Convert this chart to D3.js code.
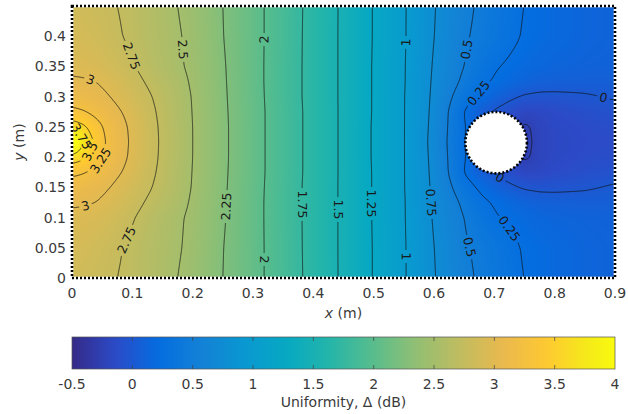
<!DOCTYPE html>
<html><head><meta charset="utf-8">
<script src="https://cdn.jsdelivr.net/npm/d3@7"></script>
<style>
html,body{margin:0;padding:0;background:#fff;}
svg{display:block;font-family:"DejaVu Sans",sans-serif;}
</style></head>
<body><svg id="chart" width="628" height="414"></svg>
<script>
// ---------------- data ----------------
const xKnots = [0, 0.02, 0.04, 0.06, 0.08, 0.1, 0.125, 0.15, 0.175, 0.2, 0.25, 0.3, 0.35, 0.4, 0.45, 0.5, 0.55, 0.6, 0.625, 0.65, 0.675, 0.7, 0.725, 0.75, 0.775, 0.8, 0.85, 0.9];
const yKnots = [0, 0.05, 0.1, 0.125, 0.15, 0.175, 0.2, 0.225, 0.25, 0.275, 0.3, 0.325, 0.35, 0.4, 0.45];
// uniformity Δ (dB), one row per yKnot (bottom to top), one value per xKnot
const uniformity = [
 [2.86,2.84,2.81,2.78,2.74,2.70,2.64,2.57,2.50,2.43,2.25,2.07,1.88,1.68,1.46,1.24,1.02,0.76,0.66,0.56,0.47,0.39,0.32,0.245,0.20,0.17,0.13,0.11],
 [2.90,2.88,2.85,2.81,2.76,2.71,2.64,2.58,2.52,2.45,2.255,2.07,1.88,1.675,1.46,1.24,1.02,0.75,0.65,0.53,0.45,0.38,0.30,0.23,0.20,0.17,0.13,0.11],
 [2.95,2.94,2.92,2.88,2.83,2.765,2.68,2.60,2.53,2.46,2.27,2.07,1.875,1.675,1.46,1.235,1.015,0.73,0.62,0.50,0.37,0.27,0.22,0.18,0.15,0.13,0.11,0.10],
 [3.03,3.02,3.00,2.95,2.89,2.82,2.73,2.65,2.565,2.475,2.275,2.07,1.875,1.675,1.46,1.235,1.015,0.72,0.60,0.45,0.31,0.23,0.17,0.12,0.09,0.08,0.07,0.07],
 [3.12,3.10,3.06,3.01,2.94,2.87,2.78,2.685,2.59,2.49,2.28,2.075,1.875,1.675,1.46,1.235,1.01,0.71,0.54,0.36,0.22,0.12,0.04,-0.02,-0.04,-0.04,-0.02,0.02],
 [3.31,3.26,3.17,3.09,3.01,2.93,2.81,2.705,2.60,2.495,2.285,2.08,1.88,1.68,1.46,1.235,1.01,0.70,0.49,0.24,0.08,-0.02,-0.10,-0.18,-0.17,-0.14,-0.10,-0.06],
 [3.65,3.54,3.35,3.17,3.06,2.96,2.835,2.715,2.605,2.50,2.29,2.08,1.88,1.68,1.46,1.23,1.01,0.69,0.48,0.27,0.06,-0.08,-0.18,-0.28,-0.20,-0.16,-0.13,-0.11],
 [4.30,3.72,3.44,3.20,3.07,2.97,2.84,2.72,2.61,2.50,2.29,2.08,1.88,1.68,1.46,1.23,1.01,0.68,0.47,0.26,0.05,-0.10,-0.20,-0.30,-0.20,-0.17,-0.14,-0.13],
 [3.65,3.54,3.35,3.17,3.06,2.96,2.835,2.715,2.605,2.50,2.29,2.08,1.88,1.68,1.46,1.23,1.01,0.69,0.48,0.27,0.06,-0.08,-0.18,-0.28,-0.20,-0.16,-0.13,-0.11],
 [3.31,3.26,3.17,3.09,3.01,2.93,2.81,2.705,2.60,2.495,2.285,2.08,1.88,1.68,1.46,1.235,1.01,0.70,0.49,0.24,0.08,-0.02,-0.10,-0.18,-0.17,-0.14,-0.10,-0.06],
 [3.12,3.10,3.06,3.01,2.94,2.87,2.78,2.685,2.59,2.49,2.28,2.075,1.875,1.675,1.46,1.235,1.01,0.71,0.54,0.36,0.22,0.12,0.04,-0.02,-0.04,-0.04,-0.02,0.02],
 [3.03,3.02,3.00,2.95,2.89,2.82,2.73,2.65,2.565,2.475,2.275,2.07,1.875,1.675,1.46,1.235,1.015,0.72,0.60,0.45,0.31,0.23,0.17,0.12,0.09,0.08,0.07,0.07],
 [2.95,2.94,2.92,2.88,2.83,2.765,2.68,2.60,2.53,2.46,2.27,2.07,1.875,1.675,1.46,1.235,1.015,0.73,0.62,0.50,0.37,0.27,0.22,0.18,0.15,0.13,0.11,0.10],
 [2.90,2.88,2.85,2.81,2.76,2.71,2.64,2.58,2.52,2.45,2.255,2.07,1.88,1.675,1.46,1.24,1.02,0.75,0.65,0.53,0.45,0.38,0.30,0.23,0.20,0.17,0.13,0.11],
 [2.86,2.84,2.81,2.78,2.74,2.70,2.64,2.57,2.50,2.43,2.25,2.07,1.88,1.68,1.46,1.24,1.02,0.76,0.66,0.56,0.47,0.39,0.32,0.245,0.20,0.17,0.13,0.11]
];
const contourLevels = [-0.25, 0, 0.25, 0.5, 0.75, 1, 1.25, 1.5, 1.75, 2, 2.25, 2.5, 2.75, 3, 3.25, 3.5, 3.75];
// [level, approx x, approx y] of each inline contour label
const contourLabels = [
 [3, 0.030, 0.328], [2.75, 0.096, 0.366], [2.5, 0.182, 0.378], [2, 0.320, 0.395],
 [1, 0.549, 0.390], [0.5, 0.655, 0.378], [0.25, 0.672, 0.307], [0, 0.880, 0.298],
 [3.75, 0.012, 0.232], [3.5, 0.026, 0.212], [3.25, 0.046, 0.196], [3, 0.022, 0.120],
 [2.75, 0.091, 0.063], [2.25, 0.257, 0.118], [2, 0.320, 0.030], [1.75, 0.381, 0.121],
 [1.5, 0.439, 0.113], [1.25, 0.491, 0.124], [1, 0.544, 0.035], [0.75, 0.585, 0.124],
 [0.5, 0.657, 0.051], [0.25, 0.721, 0.080], [0, 0.705, 0.159]
];
const obstacle = [0.703, 0.224, 0.051]; // centre x, centre y, radius (m)
const xTicks = [0, 0.1, 0.2, 0.3, 0.4, 0.5, 0.6, 0.7, 0.8, 0.9];
const yTicks = [0, 0.05, 0.1, 0.15, 0.2, 0.25, 0.3, 0.35, 0.4];
const colorTicks = [-0.5, 0, 0.5, 1, 1.5, 2, 2.5, 3, 3.5, 4];
const parulaPos = [0, 5, 10, 15, 20, 25, 30, 35, 40, 45, 50, 55, 60, 63];
const parulaHex = ["#352a87","#2c4ac7","#046de0","#1481d6","#0998d1","#07a9c2","#25b5a9","#59bd8c","#92bf73","#c0bc60","#e9b94e","#fec832","#f5eb18","#f9fb0e"];

// ---------------- layout ----------------
const M = {l:72, t:6, w:543, h:272};
const x = d3.scaleLinear().domain([0, 0.9]).range([M.l, M.l + M.w]);
const y = d3.scaleLinear().domain([0, 0.45]).range([M.t + M.h, M.t]);
const cmin = -0.5, cmax = 4;
const color = d3.scaleLinear()
  .domain(parulaPos.map(p => cmin + (cmax - cmin) * p / 63))
  .range(parulaHex).interpolate(d3.interpolateRgb).clamp(true);

const svg = d3.select('#chart');
const defs = svg.append('defs');

// ---------------- field raster ----------------
function sample(xv, yv) {
  const i = Math.min(Math.max(d3.bisectRight(xKnots, xv) - 1, 0), xKnots.length - 2);
  const j = Math.min(Math.max(d3.bisectRight(yKnots, yv) - 1, 0), yKnots.length - 2);
  const tx = (xv - xKnots[i]) / (xKnots[i+1] - xKnots[i]);
  const ty = (yv - yKnots[j]) / (yKnots[j+1] - yKnots[j]);
  const a = uniformity[j][i], b = uniformity[j][i+1], c = uniformity[j+1][i], d = uniformity[j+1][i+1];
  return (a*(1-tx) + b*tx)*(1-ty) + (c*(1-tx) + d*tx)*ty;
}
function blur(a, w, h, r) {
  const tmp = new Float64Array(w*h), out = new Float64Array(w*h);
  for (let j = 0; j < h; j++) for (let i = 0; i < w; i++) {
    let s = 0; for (let k = -r; k <= r; k++) s += a[j*w + Math.min(w-1, Math.max(0, i+k))];
    tmp[j*w+i] = s / (2*r+1);
  }
  for (let j = 0; j < h; j++) for (let i = 0; i < w; i++) {
    let s = 0; for (let k = -r; k <= r; k++) s += tmp[Math.min(h-1, Math.max(0, j+k))*w + i];
    out[j*w+i] = s / (2*r+1);
  }
  return out;
}
const nx = M.w, ny = M.h;
let vals = new Float64Array(nx*ny);
for (let j = 0; j < ny; j++) {
  const yv = y.invert(M.t + j + 0.5);
  for (let i = 0; i < nx; i++) vals[j*nx+i] = sample(x.invert(M.l + i + 0.5), yv);
}
vals = blur(blur(vals, nx, ny, 3), nx, ny, 3);

// colour image
const cv = document.createElement('canvas'); cv.width = nx; cv.height = ny;
const ctx = cv.getContext('2d'); const img = ctx.createImageData(nx, ny);
const LUT = d3.range(1025).map(k => d3.rgb(color(cmin + (cmax - cmin) * k / 1024)));
for (let k = 0; k < nx*ny; k++) {
  const t = Math.round(Math.max(0, Math.min(1, (vals[k] - cmin) / (cmax - cmin))) * 1024);
  const c = LUT[t];
  img.data[4*k] = c.r; img.data[4*k+1] = c.g; img.data[4*k+2] = c.b; img.data[4*k+3] = 255;
}
ctx.putImageData(img, 0, 0);
svg.append('image').attr('x', M.l).attr('y', M.t).attr('width', nx).attr('height', ny)
  .attr('preserveAspectRatio', 'none').attr('href', cv.toDataURL());

// ---------------- contours ----------------
const contours = d3.contours().size([nx, ny]).thresholds(contourLevels)(Array.from(vals));
const path = d3.geoPath();
defs.append('clipPath').attr('id', 'plotclip').append('rect').attr('width', nx).attr('height', ny);
const plotG = svg.append('g').attr('transform', `translate(${M.l},${M.t})`);
const lineG = plotG.append('g').attr('clip-path', 'url(#plotclip)');
const labelG = plotG.append('g');
const hpx = {cx: x(obstacle[0]) - M.l, cy: y(obstacle[1]) - M.t, r: obstacle[2] * (x(1) - x(0))};
const fmt = v => String(v);

const placed = contourLabels.map(([lev, lx, ly]) => {
  const c = contours.find(cc => Math.abs(cc.value - lev) < 1e-9);
  const tx = x(lx) - M.l, ty = y(ly) - M.t;
  let best = null, bd = Infinity;
  c.coordinates.forEach(poly => poly.forEach(ring => ring.forEach((p, k) => {
    if (p[0] < 2 || p[0] > nx-2 || p[1] < 2 || p[1] > ny-2) return;
    if (Math.hypot(p[0]-hpx.cx, p[1]-hpx.cy) < hpx.r + 2) return;
    const d = (p[0]-tx)**2 + (p[1]-ty)**2;
    if (d < bd) { bd = d; best = {ring, k}; }
  })));
  if (!best) return null;
  const n = best.ring.length, p = best.ring[best.k];
  const pa = best.ring[(best.k - 5 + n) % n], pb = best.ring[(best.k + 5) % n];
  let ang = Math.atan2(pb[1]-pa[1], pb[0]-pa[0]) * 180 / Math.PI;
  if (ang > 90) ang -= 180; if (ang <= -90) ang += 180;
  return {lev, px: p[0], py: p[1], ang};
}).filter(d => d);

placed.forEach(d => {
  const t = labelG.append('text').attr('transform', `translate(${d.px},${d.py}) rotate(${d.ang})`)
    .attr('text-anchor', 'middle').attr('dy', '0.35em')
    .attr('font-size', 12.5).attr('fill', '#1a1a1a').text(fmt(d.lev));
  d.w = t.node().getComputedTextLength();
});

contours.forEach((c, idx) => {
  const labs = placed.filter(d => Math.abs(d.lev - c.value) < 1e-9);
  const p = lineG.append('path').attr('d', path(c)).attr('fill', 'none')
    .attr('stroke', '#111').attr('stroke-width', 0.8).attr('stroke-opacity', 0.9);
  if (labs.length) {
    const m = defs.append('mask').attr('id', 'lm' + idx).attr('maskUnits', 'userSpaceOnUse')
      .attr('x', -20).attr('y', -20).attr('width', nx + 40).attr('height', ny + 40);
    m.append('rect').attr('x', -20).attr('y', -20).attr('width', nx + 40).attr('height', ny + 40).attr('fill', '#fff');
    labs.forEach(d => {
      m.append('rect').attr('x', -d.w/2 - 2.5).attr('y', -6).attr('width', d.w + 5).attr('height', 12)
        .attr('transform', `translate(${d.px},${d.py}) rotate(${d.ang})`).attr('fill', '#000');
    });
    p.attr('mask', `url(#lm${idx})`);
  }
});

// obstacle
plotG.append('circle').attr('cx', hpx.cx).attr('cy', hpx.cy).attr('r', hpx.r)
  .attr('fill', '#fff').attr('stroke', '#000').attr('stroke-width', 2.6).attr('stroke-dasharray', '2,2');

// frame (dotted)
svg.append('rect').attr('x', M.l).attr('y', M.t).attr('width', M.w).attr('height', M.h)
  .attr('fill', 'none').attr('stroke', '#fff').attr('stroke-width', 2.6);
svg.append('rect').attr('x', M.l).attr('y', M.t).attr('width', M.w).attr('height', M.h)
  .attr('fill', 'none').attr('stroke', '#000').attr('stroke-width', 2.6).attr('stroke-dasharray', '2,2');

// ---------------- axes ----------------
const tickCol = '#3a3a3a';
svg.append('g').selectAll('text').data(xTicks).join('text')
  .attr('x', d => x(d)).attr('y', M.t + M.h + 20).attr('text-anchor', 'middle')
  .attr('font-size', 14).attr('fill', tickCol).text(fmt);
svg.append('g').selectAll('text').data(yTicks).join('text')
  .attr('x', M.l - 6).attr('y', d => y(d) + 5).attr('text-anchor', 'end')
  .attr('font-size', 14).attr('fill', tickCol).text(fmt);
const xl = svg.append('text').attr('x', x(0.45)).attr('y', M.t + M.h + 40).attr('text-anchor', 'middle')
  .attr('font-size', 14).attr('fill', tickCol);
xl.append('tspan').attr('font-style', 'italic').text('x');
xl.append('tspan').text(' (m)');
const yl = svg.append('text').attr('transform', `translate(24,${y(0.225)}) rotate(-90)`).attr('text-anchor', 'middle')
  .attr('font-size', 14).attr('fill', tickCol);
yl.append('tspan').attr('font-style', 'italic').text('y');
yl.append('tspan').text(' (m)');

// ---------------- colorbar ----------------
const cb = {x0: M.l, x1: M.l + M.w, y0: 337, y1: 369};
const cx = d3.scaleLinear().domain([cmin, cmax]).range([cb.x0, cb.x1]);
const grad = defs.append('linearGradient').attr('id', 'cbgrad').attr('x1', 0).attr('x2', 1).attr('y1', 0).attr('y2', 0);
d3.range(0, 1.0001, 1/60).forEach(t => grad.append('stop').attr('offset', t).attr('stop-color', color(cmin + t*(cmax-cmin))));
svg.append('rect').attr('x', cb.x0).attr('y', cb.y0).attr('width', cb.x1 - cb.x0).attr('height', cb.y1 - cb.y0)
  .attr('fill', 'url(#cbgrad)').attr('stroke', '#555').attr('stroke-width', 0.7);
const cbt = svg.append('g');
colorTicks.forEach(v => {
  if (v > cmin && v < cmax) {
    cbt.append('line').attr('x1', cx(v)).attr('x2', cx(v)).attr('y1', cb.y1).attr('y2', cb.y1 - 4).attr('stroke', '#444').attr('stroke-width', 0.7);
    cbt.append('line').attr('x1', cx(v)).attr('x2', cx(v)).attr('y1', cb.y0).attr('y2', cb.y0 + 4).attr('stroke', '#444').attr('stroke-width', 0.7);
  }
  cbt.append('text').attr('x', cx(v)).attr('y', cb.y1 + 20).attr('text-anchor', 'middle')
    .attr('font-size', 14).attr('fill', tickCol).text(fmt(v));
});
svg.append('text').attr('x', (cb.x0 + cb.x1)/2).attr('y', cb.y1 + 38).attr('text-anchor', 'middle')
  .attr('font-size', 14).attr('fill', tickCol).text('Uniformity, Δ (dB)');
</script>
</body></html>
